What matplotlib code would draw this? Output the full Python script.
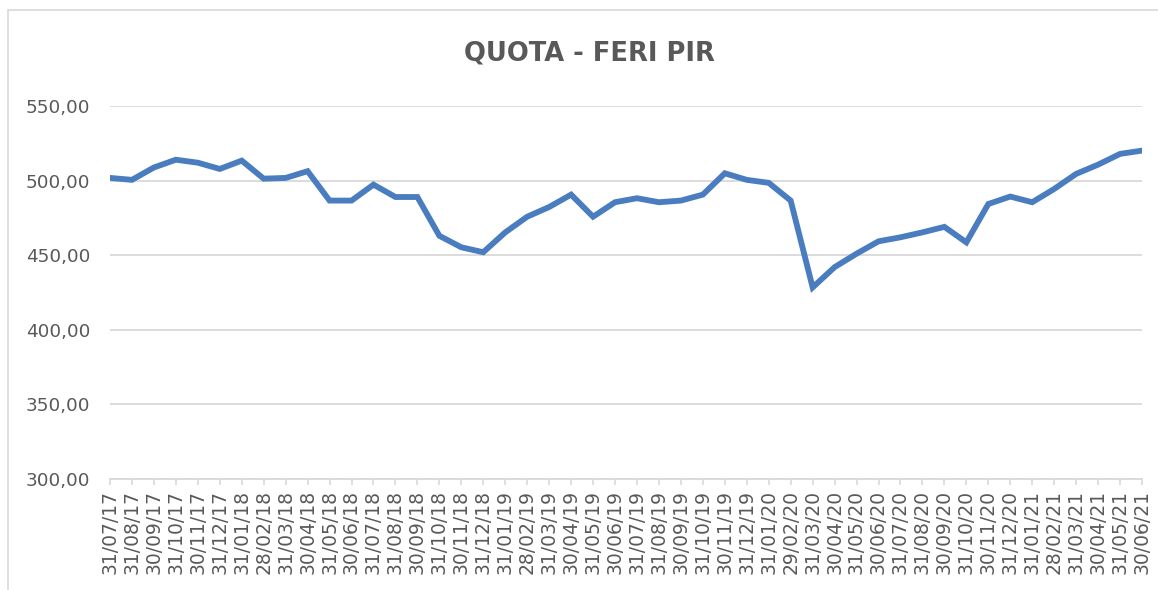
import matplotlib
matplotlib.use("Agg")
import matplotlib.pyplot as plt
from matplotlib.ticker import FuncFormatter, MultipleLocator
from matplotlib.patches import Rectangle

dates = ["31/07/17", "31/08/17", "30/09/17", "31/10/17", "30/11/17", "31/12/17",
         "31/01/18", "28/02/18", "31/03/18", "30/04/18", "31/05/18", "30/06/18",
         "31/07/18", "31/08/18", "30/09/18", "31/10/18", "30/11/18", "31/12/18",
         "31/01/19", "28/02/19", "31/03/19", "30/04/19", "31/05/19", "30/06/19",
         "31/07/19", "31/08/19", "30/09/19", "31/10/19", "30/11/19", "31/12/19",
         "31/01/20", "29/02/20", "31/03/20", "30/04/20", "31/05/20", "30/06/20",
         "31/07/20", "31/08/20", "30/09/20", "31/10/20", "30/11/20", "31/12/20",
         "31/01/21", "28/02/21", "31/03/21", "30/04/21", "31/05/21", "30/06/21"]

quota = [501.8, 500.5, 508.8, 514.0, 512.0, 507.8, 513.4, 501.3, 501.8, 506.3,
         486.6, 486.6, 497.3, 489.0, 489.0, 463.0, 455.3, 452.0, 465.3, 475.8,
         482.3, 490.6, 475.8, 485.5, 488.2, 485.5, 486.6, 490.6, 504.9, 500.5,
         498.5, 486.6, 428.4, 442.0, 451.0, 459.3, 462.0, 465.3, 469.0, 458.6,
         484.3, 489.3, 485.5, 494.4, 504.5, 510.7, 517.9, 520.1]

title = "QUOTA - FERI PIR"

W, H = 1158, 590
fig = plt.figure(figsize=(W / 100, H / 100), dpi=100)
fig.patch.set_facecolor("white")

# chart border (only left & top visible in the reference)
fig.patches.append(Rectangle((8 / W, -0.1), 1.2, 1 - 10 / H + 0.1,
                             transform=fig.transFigure, fill=False,
                             edgecolor="#d9d9d9", linewidth=1.2))

ax = fig.add_axes([110 / W, 111 / H, (1142 - 110) / W, (479 - 106) / H])
x = list(range(len(quota)))
ax.plot(x, quota, color="#4a7dbf", linewidth=4.2, solid_joinstyle="miter", zorder=3)

ax.set_xlim(0, len(quota) - 1)
ax.set_ylim(300, 550)
ax.yaxis.set_major_locator(MultipleLocator(50))
ax.yaxis.set_major_formatter(FuncFormatter(lambda v, p: f"{v:.2f}".replace(".", ",")))
ax.grid(axis="y", color="#d9d9d9", linewidth=1.3, zorder=0)

ax.set_xticks(x)
ax.set_xticklabels(dates, rotation=90)

for s in ["top", "right", "left"]:
    ax.spines[s].set_visible(False)
ax.spines["bottom"].set_color("#d9d9d9")
ax.spines["bottom"].set_linewidth(1.3)

ax.tick_params(axis="x", direction="out", length=4, width=1.2, color="#d9d9d9",
               labelcolor="#595959", labelsize=13.5, pad=4)
ax.tick_params(axis="y", length=0, labelcolor="#595959", labelsize=13.2, pad=14)

fig.text(589 / W, 1 - 53 / H, title, ha="center", va="center",
         fontsize=18.5, fontweight="bold", color="#595959")

fig.savefig("out.png", dpi=100, facecolor="white")
